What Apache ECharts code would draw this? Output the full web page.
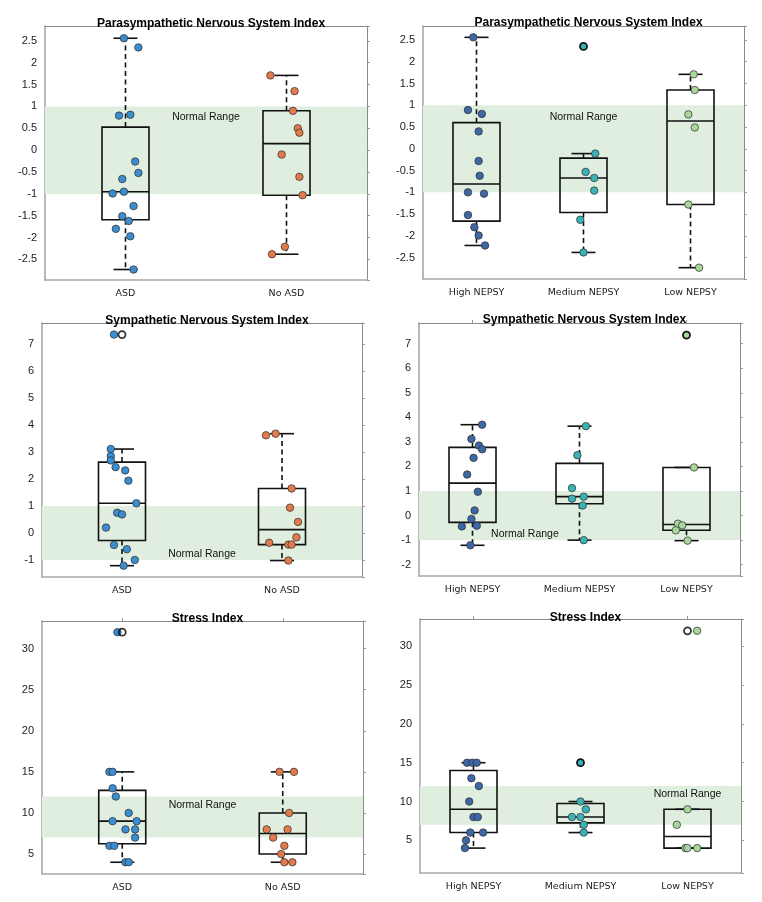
<!DOCTYPE html>
<html>
<head>
<meta charset="utf-8">
<script src="https://cdn.jsdelivr.net/npm/echarts@6/dist/echarts.min.js"></script>
<style>
html, body { margin: 0; padding: 0; background: #fff; }
#chart { width: 762px; height: 902px; }
</style>
</head>
<body>
<div id="chart"></div>
<script>
// groups
var asdGroups = ['ASD', 'No ASD'];
var nepsyGroups = ['High NEPSY', 'Medium NEPSY', 'Low NEPSY'];

// Parasympathetic Nervous System Index
var pnsASD = [2.56, 2.35, 0.79, 0.81, -0.26, -0.52, -0.66, -0.99, -0.95, -1.28, -1.51, -1.62, -1.80, -1.97, -2.73];
var pnsNoASD = [1.71, 1.35, 0.90, 0.50, 0.40, -0.10, -0.61, -1.03, -2.21, -2.38];
var pnsHigh = [2.56, 0.89, 0.80, 0.40, -0.28, -0.62, -1.00, -1.03, -1.52, -1.80, -1.99, -2.22];
var pnsMedium = [2.35, -0.11, -0.53, -0.67, -0.96, -1.63, -2.38];
var pnsLow = [1.71, 1.35, 0.79, 0.49, -1.28, -2.73];

// Sympathetic Nervous System Index
var snsASD = [7.35, 3.11, 2.85, 2.69, 2.44, 2.32, 1.94, 1.10, 0.75, 0.69, 0.20, -0.44, -0.60, -1.00, -1.21];
var snsNoASD = [3.62, 3.68, 1.65, 0.94, 0.41, -0.16, -0.36, -0.43, -0.43, -1.02];
var snsHigh = [3.70, 3.12, 2.85, 2.70, 2.35, 1.67, 0.97, 0.21, -0.14, -0.44, -0.41, -1.21];
var snsMedium = [3.64, 2.46, 1.12, 0.77, 0.69, 0.41, -1.00];
var snsLow = [7.35, 1.96, -0.33, -0.40, -0.60, -1.02];

// Stress Index
var stressASD = [32, 15, 15, 13, 12, 10, 9, 9, 8, 8, 7, 6, 6, 4, 4];
var stressNoASD = [15, 15, 10, 8, 8, 7, 6, 5, 4, 4];
var stressHigh = [15, 15, 15, 13, 12, 10, 8, 8, 6, 6, 5, 4];
var stressMedium = [15, 10, 9, 8, 8, 7, 6];
var stressLow = [32, 9, 7, 4, 4, 4];

// horizontal jitter of the dots (category units)
var pnsASDJit = [-0.01, 0.08, -0.04, 0.03, 0.06, 0.08, -0.02, -0.08, -0.01, 0.05, -0.02, 0.02, -0.06, 0.03, 0.05];
var pnsNoASDJit = [-0.10, 0.05, 0.04, 0.07, 0.08, -0.03, 0.08, 0.10, -0.01, -0.09];
var pnsHighJit = [-0.03, -0.08, 0.05, 0.02, 0.02, 0.03, -0.08, 0.07, -0.08, -0.02, 0.02, 0.08];
var pnsMediumJit = [0.0, 0.11, 0.02, 0.10, 0.10, -0.03, 0.0];
var pnsLowJit = [0.03, 0.04, -0.02, 0.04, -0.02, 0.08];

var snsASDJit = [-0.05, -0.07, -0.07, -0.07, -0.04, 0.02, 0.04, 0.09, -0.03, 0.0, -0.10, -0.05, 0.03, 0.08, 0.01];
var snsNoASDJit = [-0.10, -0.04, 0.06, 0.05, 0.10, 0.09, -0.08, 0.04, 0.06, 0.04];
var snsHighJit = [0.09, -0.01, 0.06, 0.09, 0.01, -0.05, 0.05, 0.02, -0.01, -0.10, 0.04, -0.02];
var snsMediumJit = [0.06, -0.02, -0.07, 0.04, -0.07, 0.03, 0.04];
var snsLowJit = [0.0, 0.07, -0.08, -0.04, -0.10, 0.01];

var stressASDJit = [-0.03, -0.08, -0.06, -0.06, -0.04, 0.04, -0.06, 0.09, 0.02, 0.08, 0.08, -0.08, -0.05, 0.02, 0.04];
var stressNoASDJit = [-0.02, 0.07, 0.04, -0.10, 0.03, -0.06, 0.01, -0.01, 0.01, 0.06];
var stressHighJit = [-0.06, -0.01, 0.03, -0.02, 0.05, -0.04, 0.0, 0.04, -0.03, 0.09, -0.07, -0.08];
var stressMediumJit = [0.0, 0.0, 0.05, -0.08, 0.0, 0.03, 0.03];
var stressLowJit = [0.09, 0.0, -0.10, -0.02, 0.09, 0.0];

// normal ranges
var pnsNormal = [-1, 1];
var snsNormal = [-1, 1];
var stressNormal = [7, 12];

var asdColors = ['#3b8dcf', '#e27b4c'];
var nepsyColors = ['#3e67a6', '#3ab3b6', '#a9d69b'];

var panels = [
    { title: 'Parasympathetic Nervous System Index', groups: asdGroups, colors: asdColors,
      values: [pnsASD, pnsNoASD], jitter: [pnsASDJit, pnsNoASDJit], normal: pnsNormal,
      yMin: -2.97, yMax: 2.84, step: 0.5, box: [45, 26, 322, 254], titleY: 13, labelAt: [0.5, 0.75] },
    { title: 'Parasympathetic Nervous System Index', groups: nepsyGroups, colors: nepsyColors,
      values: [pnsHigh, pnsMedium, pnsLow], jitter: [pnsHighJit, pnsMediumJit, pnsLowJit], normal: pnsNormal,
      yMin: -2.99, yMax: 2.82, step: 0.5, box: [423, 26, 321, 253], titleY: 12, labelAt: [1, 0.73] },
    { title: 'Sympathetic Nervous System Index', groups: asdGroups, colors: asdColors,
      values: [snsASD, snsNoASD], jitter: [snsASDJit, snsNoASDJit], normal: snsNormal,
      yMin: -1.63, yMax: 7.78, step: 1, box: [42, 323, 320, 254], titleY: 310, labelAt: [0.5, -0.78] },
    { title: 'Sympathetic Nervous System Index', groups: nepsyGroups, colors: nepsyColors,
      values: [snsHigh, snsMedium, snsLow], jitter: [snsHighJit, snsMediumJit, snsLowJit], normal: snsNormal,
      yMin: -2.46, yMax: 7.84, step: 1, box: [419, 323, 321, 253], titleY: 309, labelAt: [0.49, -0.76] },
    { title: 'Stress Index', groups: asdGroups, colors: asdColors,
      values: [stressASD, stressNoASD], jitter: [stressASDJit, stressNoASDJit], normal: stressNormal,
      yMin: 2.57, yMax: 33.36, step: 5, box: [42, 621, 321, 253], titleY: 608, labelAt: [0.5, 10.95] },
    { title: 'Stress Index', groups: nepsyGroups, colors: nepsyColors,
      values: [stressHigh, stressMedium, stressLow], jitter: [stressHighJit, stressMediumJit, stressLowJit], normal: stressNormal,
      yMin: 0.79, yMax: 33.52, step: 5, box: [420, 619, 321, 254], titleY: 607, labelAt: [2, 10.97] }
];

// quartiles the way MATLAB's boxplot does them
function quantile(s, p) {
    var n = s.length;
    var pos = n * p + 0.5;
    if (pos <= 1) return s[0];
    if (pos >= n) return s[n - 1];
    var lo = Math.floor(pos);
    return s[lo - 1] + (pos - lo) * (s[lo] - s[lo - 1]);
}

function boxStats(values) {
    var s = values.slice().sort(function (a, b) { return a - b; });
    var q1 = quantile(s, 0.25), med = quantile(s, 0.5), q3 = quantile(s, 0.75);
    var iqr = q3 - q1;
    var inside = s.filter(function (v) { return v >= q1 - 1.5 * iqr && v <= q3 + 1.5 * iqr; });
    var outliers = s.filter(function (v) { return v < q1 - 1.5 * iqr || v > q3 + 1.5 * iqr; });
    return { row: [inside[0], q1, med, q3, inside[inside.length - 1]], outliers: outliers };
}

function renderBox(params, api) {
    var x = api.value(0);
    var pMin = api.coord([x, api.value(1)]);
    var pQ1 = api.coord([x, api.value(2)]);
    var pMed = api.coord([x, api.value(3)]);
    var pQ3 = api.coord([x, api.value(4)]);
    var pMax = api.coord([x, api.value(5)]);
    var cx = pMed[0], hw = 23.5, cw = 12;
    var solid = { stroke: '#111', lineWidth: 1.6, fill: null };
    var dashed = { stroke: '#111', lineWidth: 1.6, lineDash: [5, 3.5] };
    return {
        type: 'group',
        children: [
            { type: 'line', shape: { x1: cx, y1: pQ3[1], x2: cx, y2: pMax[1] }, style: dashed },
            { type: 'line', shape: { x1: cx, y1: pQ1[1], x2: cx, y2: pMin[1] }, style: dashed },
            { type: 'line', shape: { x1: cx - cw, y1: pMax[1], x2: cx + cw, y2: pMax[1] }, style: solid },
            { type: 'line', shape: { x1: cx - cw, y1: pMin[1], x2: cx + cw, y2: pMin[1] }, style: solid },
            { type: 'rect', shape: { x: cx - hw, y: pQ3[1], width: 2 * hw, height: pQ1[1] - pQ3[1] }, style: solid },
            { type: 'line', shape: { x1: cx - hw, y1: pMed[1], x2: cx + hw, y2: pMed[1] }, style: solid }
        ]
    };
}

var option = {
    animation: false,
    backgroundColor: '#fff',
    title: [], grid: [], xAxis: [], yAxis: [], series: []
};

panels.forEach(function (p, i) {
    var n = p.groups.length;
    option.title.push({
        text: p.title, left: p.box[0] + p.box[2] / 2, top: p.titleY, textAlign: 'center',
        textStyle: { fontFamily: 'Liberation Sans', fontWeight: 'bold', fontSize: 12, color: '#000' }
    });
    option.grid.push({ left: p.box[0], top: p.box[1], width: p.box[2], height: p.box[3] });

    var xBase = option.xAxis.length;
    option.xAxis.push({
        type: 'category', gridIndex: i, position: 'bottom', data: p.groups,
        axisLine: { onZero: false, lineStyle: { color: '#a8a8a8', width: 1.6 } },
        axisTick: { show: false },
        axisLabel: { fontFamily: 'DejaVu Sans', fontSize: 9.5, color: '#222', margin: 9 }
    });
    option.xAxis.push({
        type: 'category', gridIndex: i, position: 'top', data: p.groups,
        axisLine: { onZero: false, lineStyle: { color: '#8a8a8a', width: 1 } },
        axisTick: { show: true, alignWithLabel: true, length: 3, lineStyle: { color: '#999' } },
        axisLabel: { show: false }
    });
    option.xAxis.push({ type: 'value', gridIndex: i, min: -0.5, max: n - 0.5, show: false });

    var yBase = option.yAxis.length;
    option.yAxis.push({
        type: 'value', gridIndex: i, position: 'left', min: p.yMin, max: p.yMax,
        splitNumber: Math.round((p.yMax - p.yMin) / p.step),
        axisLine: { show: true, onZero: false, lineStyle: { color: '#a8a8a8', width: 1.6 } },
        axisTick: { show: false },
        splitLine: { show: false },
        axisLabel: {
            fontFamily: 'Liberation Sans', fontSize: 11, color: '#222', margin: 8,
            formatter: function (v) {
                var k = v / p.step;
                return Math.abs(k - Math.round(k)) < 1e-6 ? String(Math.round(k) * p.step) : '';
            }
        }
    });
    option.yAxis.push({
        type: 'value', gridIndex: i, position: 'right', min: p.yMin, max: p.yMax,
        splitNumber: Math.round((p.yMax - p.yMin) / p.step),
        axisLine: { show: true, onZero: false, lineStyle: { color: '#8a8a8a', width: 1 } },
        axisTick: { show: true, length: 3, lineStyle: { color: '#999' } },
        splitLine: { show: false },
        axisLabel: { show: false }
    });

    var xi = xBase + 2, yi = yBase;

    // normal range band
    option.series.push({
        type: 'scatter', xAxisIndex: xi, yAxisIndex: yi, data: [], z: 1, silent: true,
        markArea: {
            silent: true,
            itemStyle: { color: '#dfeedf' },
            data: [[{ yAxis: p.normal[1] }, { yAxis: p.normal[0] }]]
        }
    });

    // boxes
    var stats = p.values.map(boxStats);
    option.series.push({
        type: 'custom', xAxisIndex: xi, yAxisIndex: yi, z: 2, silent: true,
        renderItem: renderBox,
        encode: { x: 0, y: [1, 2, 3, 4, 5] },
        data: stats.map(function (s, g) { return [g].concat(s.row); })
    });

    // dots
    p.values.forEach(function (vals, g) {
        option.series.push({
            type: 'scatter', xAxisIndex: xi, yAxisIndex: yi, z: 3, symbolSize: 7.5,
            itemStyle: { color: p.colors[g], borderColor: '#2b2b2b', borderWidth: 0.7, opacity: 1 },
            data: vals.map(function (v, k) { return [g + p.jitter[g][k], v]; })
        });
    });

    // outliers
    var out = [];
    stats.forEach(function (s, g) {
        s.outliers.forEach(function (v) { out.push([g, v]); });
    });
    option.series.push({
        type: 'scatter', xAxisIndex: xi, yAxisIndex: yi, z: 4, symbolSize: 7,
        itemStyle: { color: 'rgba(0,0,0,0)', borderColor: '#000', borderWidth: 1.8 },
        data: out
    });

    // band label
    option.series.push({
        type: 'scatter', xAxisIndex: xi, yAxisIndex: yi, z: 5, symbolSize: 0, silent: true,
        itemStyle: { opacity: 1 },
        label: {
            show: true, position: 'inside', formatter: 'Normal Range',
            fontFamily: 'Liberation Sans', fontSize: 10.5, color: '#111', opacity: 1
        },
        data: [p.labelAt]
    });
});

var chart = echarts.init(document.getElementById('chart'));
chart.setOption(option);
window.addEventListener('resize', function () { chart.resize(); });
</script>
</body>
</html>
